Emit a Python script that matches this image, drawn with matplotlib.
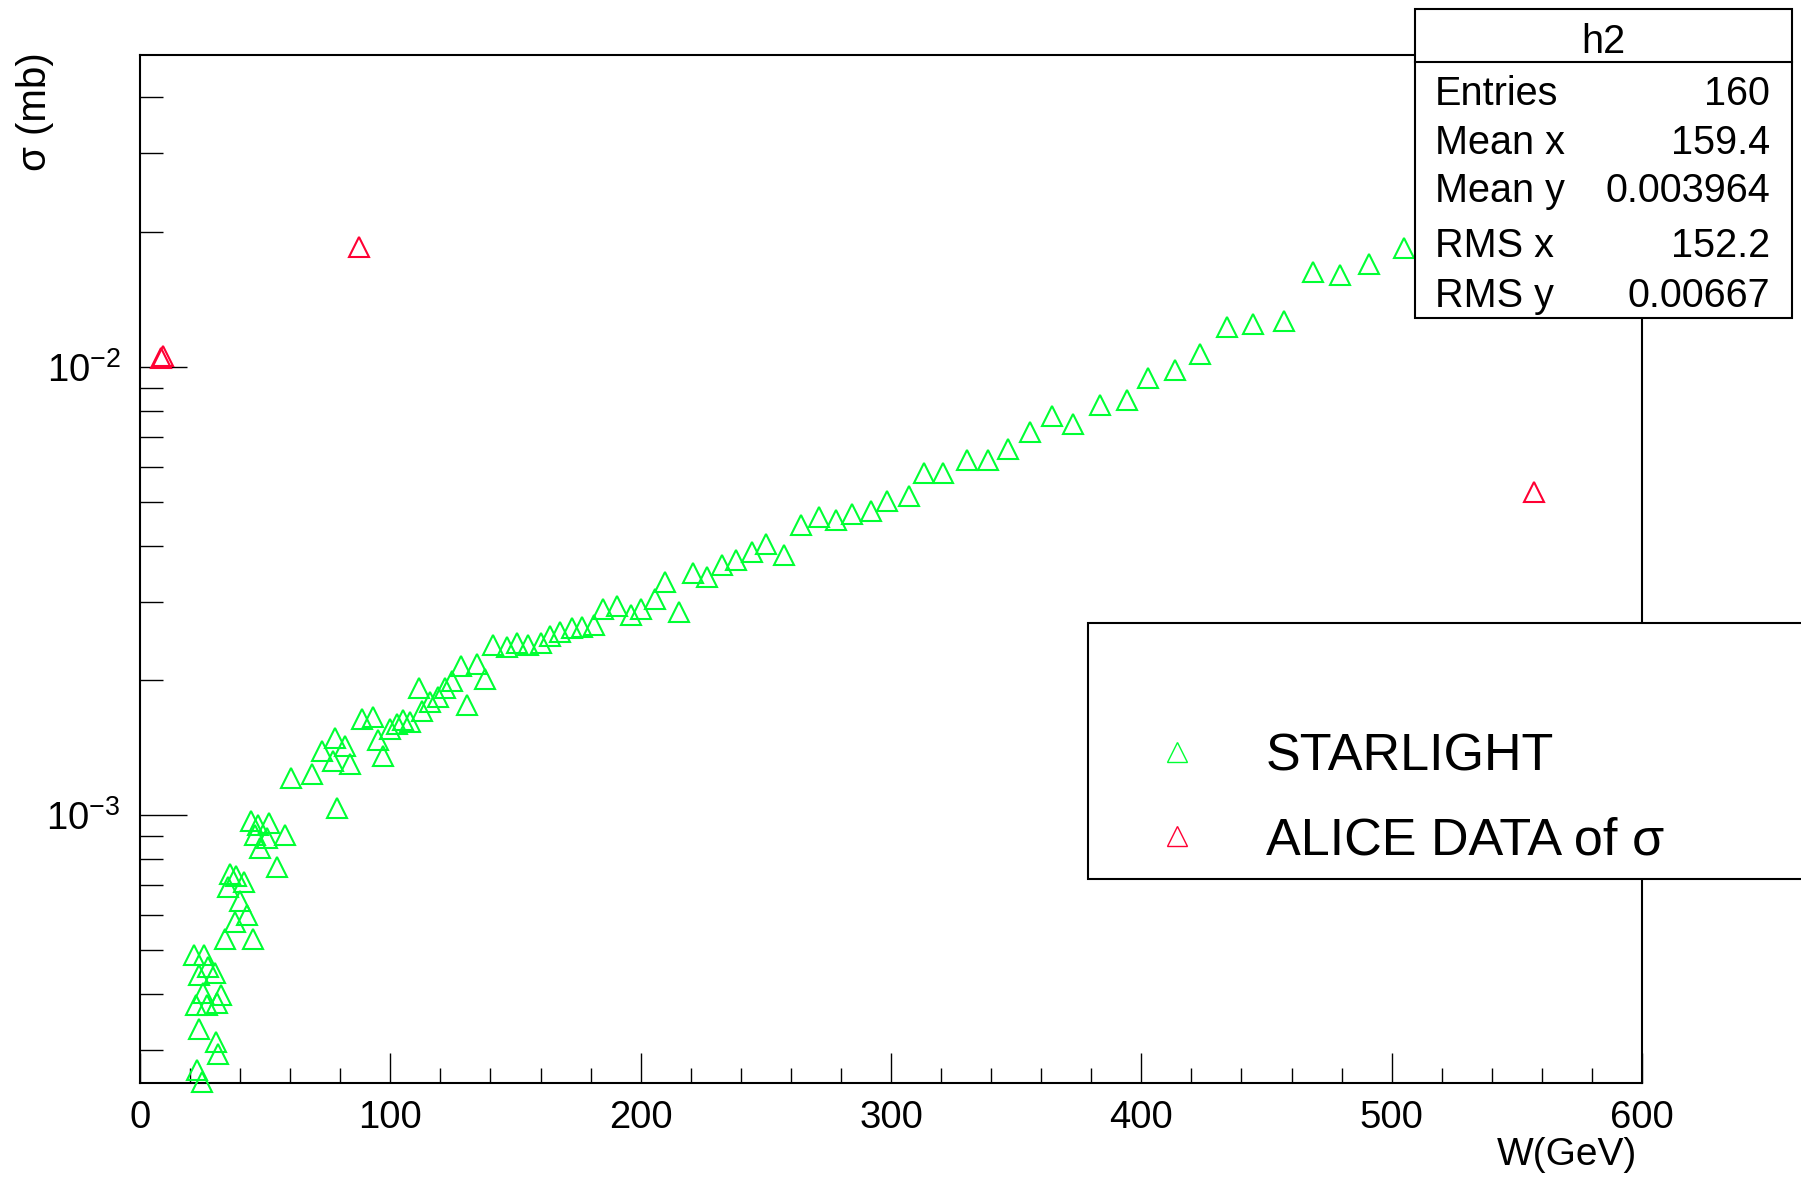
import matplotlib
matplotlib.use("Agg")
import matplotlib.pyplot as plt
from matplotlib.patches import Rectangle
from matplotlib.lines import Line2D
from matplotlib.ticker import MultipleLocator, LogLocator, NullFormatter

plt.rcParams['font.family'] = ['Liberation Sans', 'DejaVu Sans']
plt.rcParams['mathtext.fontset'] = 'custom'
plt.rcParams['mathtext.rm'] = 'Liberation Sans'
plt.rcParams['mathtext.it'] = 'Liberation Sans:italic'

# ---------------- data ----------------
green_W = [22.7, 24.7, 23.6, 30.2, 31.3, 22.3, 26.9, 30.9, 25.3, 32.2, 23.6, 30.0, 27.3, 21.6, 25.6,
           36.0, 38.2, 41.6, 35.3, 40.0, 42.6, 45.3, 34.0, 38.0,
           44.2, 47.3, 51.5, 45.9, 50.9, 57.9, 47.9, 54.9,
           60.2, 68.6, 72.8, 77.2, 77.9, 78.6, 81.9, 83.9, 88.6, 93.2,
           95.2, 97.2, 99.9, 102.7, 105.1, 107.9, 111.5, 112.7, 115.9, 119.1,
           121.9, 124.7, 128.1, 130.5, 134.6, 138.0, 141.0, 146.6, 150.6, 155.0,
           160.2, 163.8, 167.8, 172.6, 176.6, 181.4, 185.0, 190.6, 196.2, 200.2,
           205.8, 209.8, 215.3, 220.9, 226.5, 232.5, 238.1, 244.5, 250.1, 257.3,
           264.0, 271.2, 278.2, 284.5, 292.2, 298.6, 307.3, 313.3, 320.9, 330.5,
           338.6, 346.9, 355.6, 364.2, 372.9, 383.5, 394.2, 402.8, 413.6, 423.4,
           434.2, 444.8, 456.8, 468.5, 479.3, 491.1, 504.9]
green_sigma = [0.000270, 0.000254, 0.000334, 0.000312, 0.000294, 0.000378, 0.000378, 0.000381,
               0.000401, 0.000397, 0.000441, 0.000445, 0.000459, 0.000489, 0.000489,
               0.000741, 0.000734, 0.000710, 0.000692, 0.000643, 0.000600, 0.000531, 0.000531, 0.000578,
               0.000974, 0.000952, 0.000961, 0.000905, 0.000890, 0.000905, 0.000845, 0.000769,
               0.00121, 0.00124, 0.00139, 0.00132, 0.00149, 0.00104, 0.00143, 0.00130, 0.00164, 0.00166,
               0.00147, 0.00136, 0.00156, 0.00160, 0.00163, 0.00162, 0.00192, 0.00171, 0.00179, 0.00184,
               0.00192, 0.00199, 0.00215, 0.00176, 0.00218, 0.00202, 0.00240, 0.00238, 0.00242, 0.00240,
               0.00242, 0.00251, 0.00257, 0.00262, 0.00263, 0.00266, 0.00289, 0.00293, 0.00280, 0.00289,
               0.00304, 0.00332, 0.00284, 0.00347, 0.00340, 0.00362, 0.00371, 0.00387, 0.00403, 0.00381,
               0.00444, 0.00464, 0.00457, 0.00470, 0.00477, 0.00504, 0.00517, 0.00581, 0.00581, 0.00620,
               0.00620, 0.00656, 0.00715, 0.00778, 0.00745, 0.00823, 0.00846, 0.00945, 0.00986, 0.01071,
               0.01232, 0.01249, 0.01268, 0.01628, 0.01609, 0.01702, 0.01847]

red_W = [8.5, 9.0, 87.4, 556.8]
red_sigma = [0.0105, 0.0106, 0.0185, 0.00526]

legend_labels = ["STARLIGHT", "ALICE DATA of \u03c3"]
stats_title = "h2"
stats_labels = ["Entries", "Mean x", "Mean y", "RMS x", "RMS y"]
stats_values = ["160", "159.4", "0.003964", "152.2", "0.00667"]

x_label = "W(GeV)"
y_label = "\u03c3 (mb)"

GREEN = '#00ff33'
RED = '#ff0033'

# ---------------- figure ----------------
W_PX, H_PX = 1801, 1180
fig = plt.figure(figsize=(W_PX / 100, H_PX / 100), dpi=100)

def fx(px):
    return px / W_PX

def fy(py):
    return 1 - py / H_PX

ax = fig.add_axes([fx(140), fy(1083), fx(1642) - fx(140), fy(55) - fy(1083)])

ax.plot(green_W, green_sigma, linestyle='none', marker='^', markersize=15,
        markerfacecolor='none', markeredgecolor=GREEN, markeredgewidth=1.5, clip_on=False, zorder=3)
ax.plot(red_W, red_sigma, linestyle='none', marker='^', markersize=15,
        markerfacecolor='none', markeredgecolor=RED, markeredgewidth=1.5, clip_on=False, zorder=3)

ax.set_xlim(0, 600)
ax.set_yscale('log')
ax.set_ylim(2.53e-4, 0.0497)

for sp in ax.spines.values():
    sp.set_linewidth(1.5)

ax.xaxis.set_major_locator(MultipleLocator(100))
ax.xaxis.set_minor_locator(MultipleLocator(20))
ax.yaxis.set_major_locator(LogLocator(base=10, numticks=10))
ax.yaxis.set_minor_locator(LogLocator(base=10, subs=range(2, 10), numticks=20))
ax.yaxis.set_minor_formatter(NullFormatter())

ax.tick_params(axis='x', which='major', direction='in', length=21.6, width=1.0, pad=12, labelsize=27.5)
ax.tick_params(axis='x', which='minor', direction='in', length=10.8, width=1.0)
ax.tick_params(axis='y', which='major', direction='in', length=34, width=1.0, pad=14, labelsize=27.5)
ax.tick_params(axis='y', which='minor', direction='in', length=16.6, width=1.0)
ax.tick_params(top=False, right=False, which='both')

ax.set_xlabel(x_label, fontsize=28, loc='right')
ax.xaxis.set_label_coords((1637 - 140) / 1502, (1083 - 1155) / 1028)
ax.xaxis.label.set_va('center')

ax.set_ylabel(y_label, fontsize=29, loc='top')
ax.yaxis.set_label_coords((35 - 140) / 1502, (1083 - 52) / 1028)
ax.yaxis.label.set_va('center')

# ---------------- stats box ----------------
bx0, bx1, by0, by1 = 1415, 1792, 9, 318
fig.add_artist(Rectangle((fx(bx0), fy(by1)), fx(bx1) - fx(bx0), fy(by0) - fy(by1),
                         transform=fig.transFigure, facecolor='white', edgecolor='black',
                         linewidth=1.5, zorder=10))
fig.add_artist(Line2D([fx(bx0), fx(bx1)], [fy(62), fy(62)], transform=fig.transFigure,
                      color='black', linewidth=1.5, zorder=11))
fig.text(fx((bx0 + bx1) / 2), fy(42), stats_title, ha='center', va='center', fontsize=28.5, zorder=12)
row_y = [94, 143, 191, 246, 296]
for lab, val, yy in zip(stats_labels, stats_values, row_y):
    fig.text(fx(1435), fy(yy), lab, ha='left', va='center', fontsize=28.5, zorder=12)
    fig.text(fx(1770), fy(yy), val, ha='right', va='center', fontsize=28.5, zorder=12)

# ---------------- legend ----------------
lx0, ly0, ly1 = 1088, 623, 879
fig.add_artist(Rectangle((fx(lx0), fy(ly1)), 1.02 - fx(lx0), fy(ly0) - fy(ly1),
                         transform=fig.transFigure, facecolor='white', edgecolor='black',
                         linewidth=1.5, zorder=10, clip_on=False))
for lab, col, yy in zip(legend_labels, [GREEN, RED], [752, 836]):
    fig.add_artist(Line2D([fx(1177)], [fy(yy)], transform=fig.transFigure, linestyle='none',
                          marker='^', markersize=14, markerfacecolor='none',
                          markeredgecolor=col, markeredgewidth=1.0, zorder=11))
    fig.text(fx(1266), fy(yy + 5), lab, ha='left', va='center', fontsize=37.5, zorder=12)

fig.savefig("out.png", dpi=100)
